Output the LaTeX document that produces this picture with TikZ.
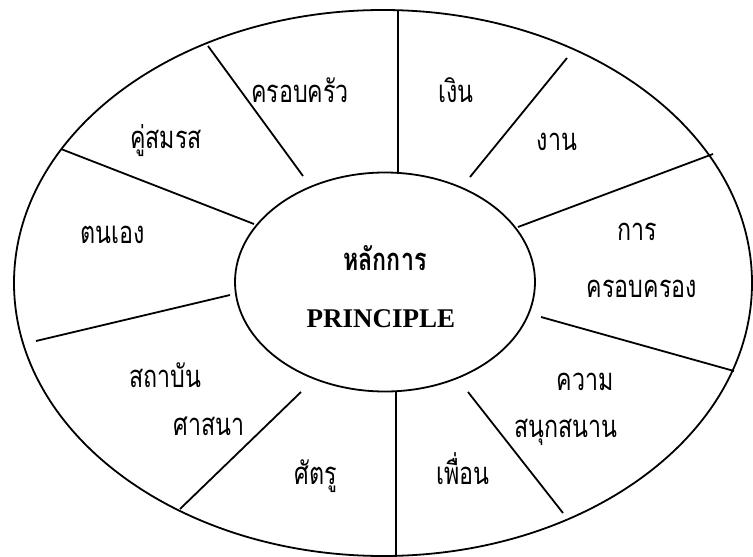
\documentclass[tikz,border=0pt]{standalone}
\usepackage{fontspec}
\setmainfont{Liberation Serif}
\newfontfamily\thaifont[Script=Thai,FakeStretch=0.75]{Loma}
\usetikzlibrary{shapes.geometric}

\begin{document}
\begin{tikzpicture}[x=1pt,y=-1pt,line width=1.8pt,
    lab/.style={font=\thaifont\fontsize{31}{34}\selectfont,anchor=base,inner sep=0pt},
    spoke/.style={line width=1.8pt}]
  \useasboundingbox (0,0) rectangle (753,557);
  % outer ring
  \draw (383,283) ellipse [x radius=369, y radius=273];
  % centre
  \node[draw,ellipse,minimum width=300pt,minimum height=219pt] (core) at (385,282) {};
  \node[font=\thaifont\bfseries\fontsize{31}{34}\selectfont,anchor=base,inner sep=0pt]
        (hlak) at (385,270) {หลักการ};
  \node[font=\bfseries\fontsize{27}{30}\selectfont,anchor=base,inner sep=0pt]
        (prin) at (381,327) {PRINCIPLE};
  % spokes between the two rings
  \foreach \i/\xa/\ya/\xb/\yb in {1/303/176/208/46, 2/254/224/61/149, 3/230/295/36/341,
      4/301/392/180/509, 5/396/392/396/557, 6/468/392/563/513, 7/541/317/734/371,
      8/518/227/713/154, 9/470/177/567/58, 10/398/173/398/10}
  {
    \coordinate (in\i) at (\xa,\ya);
    \coordinate (out\i) at (\xb,\yb);
    \draw[spoke] (in\i) -- (out\i);
  }
  % segment labels
  \node[lab] (family) at (300,102) {ครอบครัว};
  \node[lab] (spouse) at (166,148) {คู่สมรส};
  \node[lab] (self) at (113,243) {ตนเอง};
  \node[lab] (inst) at (165,387) {สถาบัน};
  \node[lab] (relig) at (209,435) {ศาสนา};
  \node[lab] (enemy) at (316,484) {ศัตรู};
  \node[lab] (friend) at (463,484) {เพื่อน};
  \node[lab] (fun1) at (585,390) {ความ};
  \node[lab] (fun2) at (566,437) {สนุกสนาน};
  \node[lab] (gov1) at (637,240) {การ};
  \node[lab] (gov2) at (642,297) {ครอบครอง};
  \node[lab] (work) at (557,150) {งาน};
  \node[lab] (money) at (456,102) {เงิน};
\end{tikzpicture}
\end{document}
